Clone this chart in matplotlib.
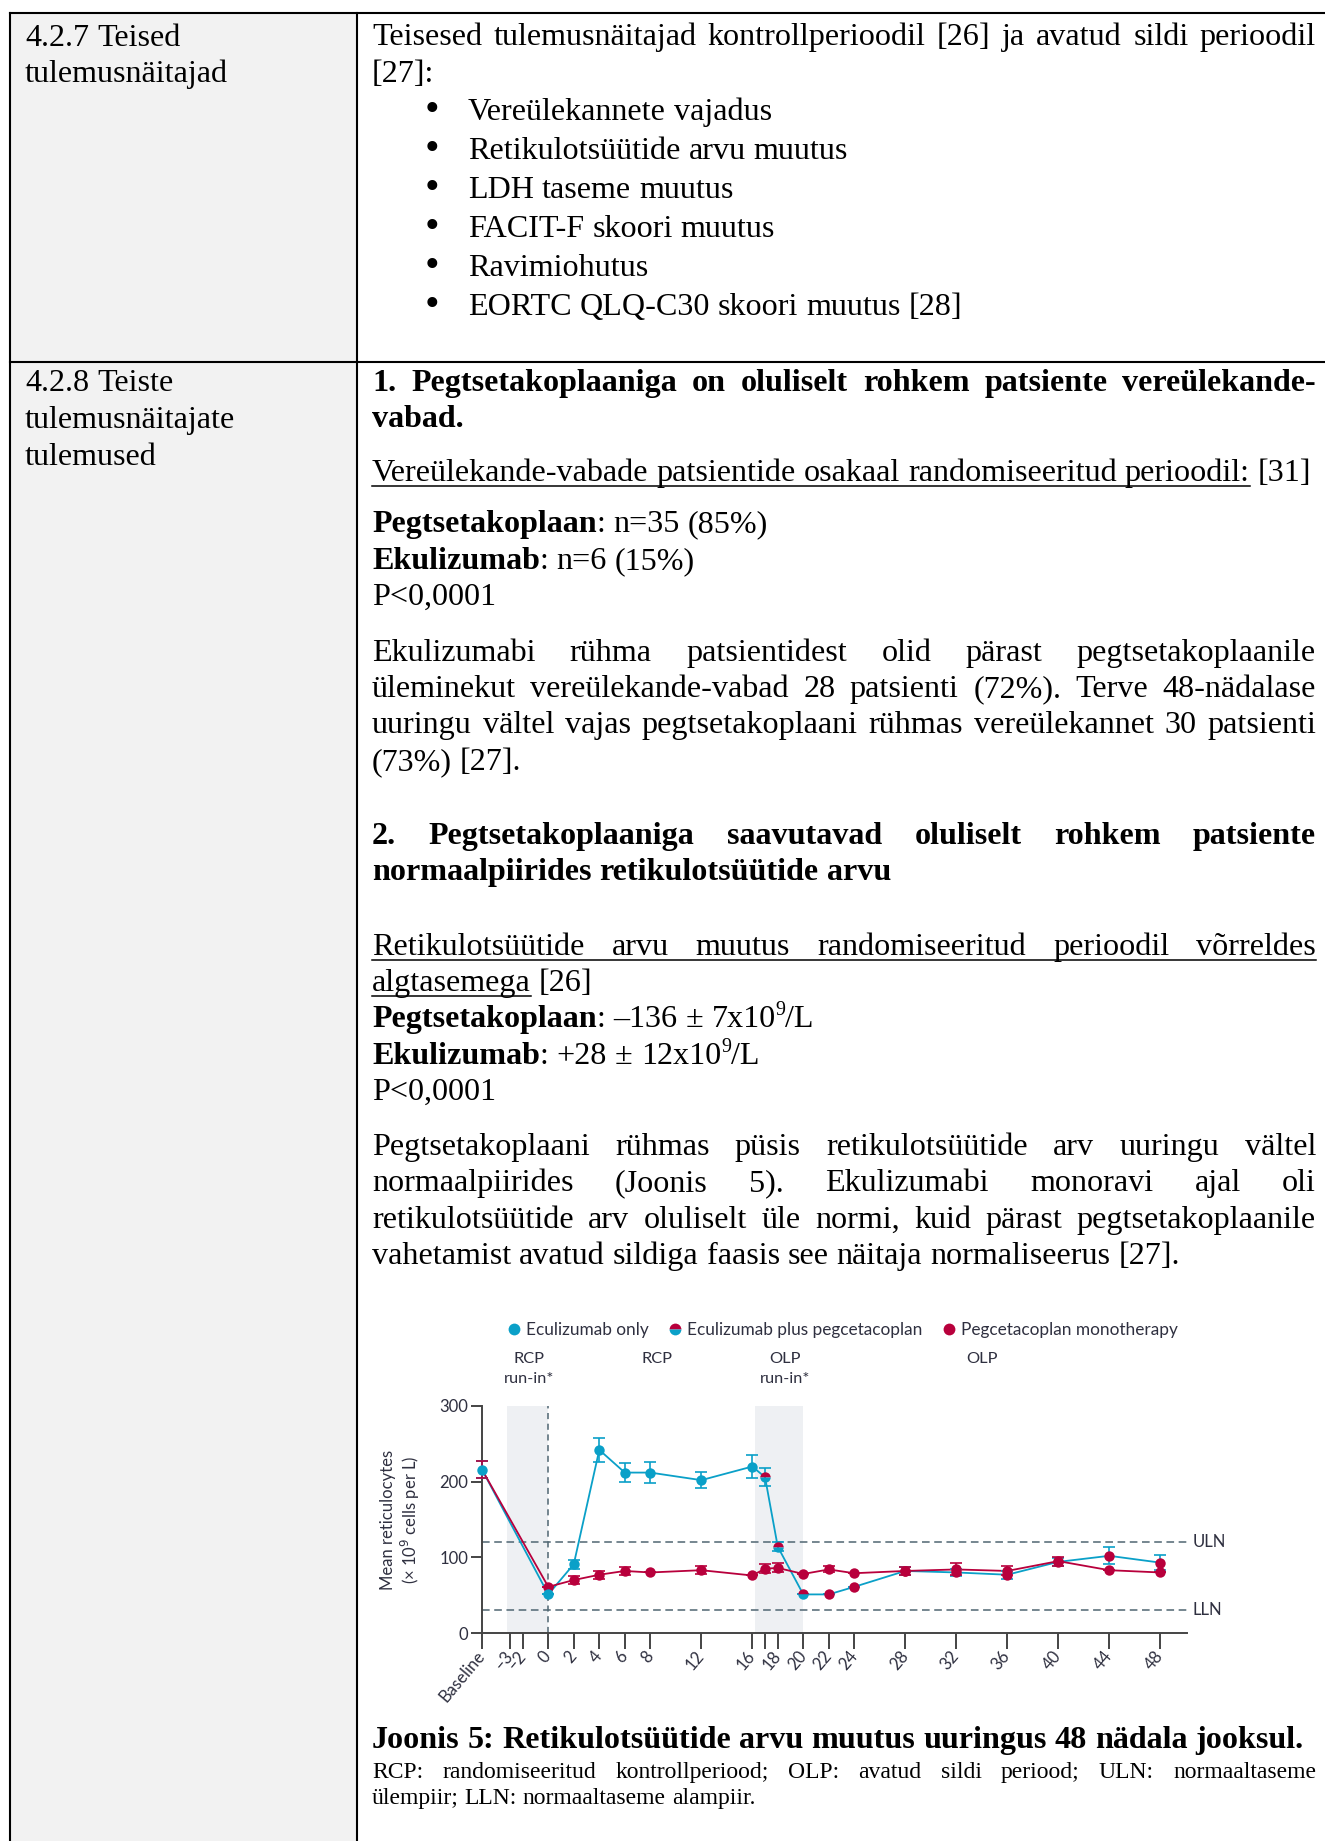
import matplotlib.pyplot as plt
from matplotlib.lines import Line2D
from matplotlib.transforms import blended_transform_factory

W, H = 1325, 1841
SERIF = 'Liberation Serif'
SANS = 'Lato'
BODY = 23.1

# reticulocyte counts (x10^9 cells per L); -5.2 is the slot used for baseline
weeks = [-5.2, 0, 2, 4, 6, 8, 12, 16, 17, 18, 20, 22, 24, 28, 32, 36, 40, 44, 48]
ecu_mean = [216, 51, 91, 242, 212, 212, 202, 220, 206, 114, 51, 51, 61, 82, 80, 77, 94, 102, 93]
ecu_err = [11, 0, 6, 16, 13, 14, 11, 15, 12, 6, 0, 0, 0, 5, 5, 5, 5, 11, 10]
# treatment of the eculizumab arm at each visit
ecu_phase = ['ecu'] * 8 + ['combo'] * 3 + ['peg'] * 8
peg_mean = [216, 61, 70, 77, 82, 80, 83, 76, 85, 86, 78, 84, 79, 82, 84, 82, 95, 83, 80]
peg_err = [11, 0, 5, 5, 5, 0, 5, 0, 6, 6, 0, 4, 0, 5, 8, 6, 6, 0, 0]

tick_pos = [-5.2, -3, -2, 0, 2, 4, 6, 8, 12, 16, 17, 18, 20, 22, 24, 28, 32, 36, 40, 44, 48]
tick_lab = ['Baseline', '–3', '–2', '0', '2', '4', '6', '8', '12', '16', '', '18', '20',
            '22', '24', '28', '32', '36', '40', '44', '48']
uln, lln = 120, 30
runin_spans = [(-3.2, 0), (16.2, 20)]
period_x = [-1.5, 8.5, 18.6, 34]
period_lab = ['RCP\nrun-in*', 'RCP', 'OLP\nrun-in*', 'OLP']
legend_lab = ['Eculizumab only', 'Eculizumab plus pegcetacoplan', 'Pegcetacoplan monotherapy']

TEAL = '#0aa0c8'
RED = '#b8003c'
DASH = '#4f6672'
INK = '#2f3040'
CHART_FS = 12

fig = plt.figure(figsize=(W / 100, H / 100), dpi=100)
page = fig.add_axes([0, 0, 1, 1])
page.set_xlim(0, W)
page.set_ylim(H, 0)
page.axis('off')
rend = fig.canvas.get_renderer()

# table frame
page.fill_between([10, 357], 13, H, color='#f2f2f2', lw=0, zorder=0)
frame = dict(color='black', lw=1.5, zorder=1, solid_capstyle='projecting')
page.plot([10, W], [13, 13], **frame)
page.plot([10, W], [362, 362], **frame)
page.plot([10, 10], [13, H], **frame)
page.plot([357, 357], [13, H], **frame)


def txt_width(s, size, bold=False):
    t = page.text(0, 0, s, fontsize=size, family=SERIF,
                  fontweight='bold' if bold else 'normal')
    w = t.get_window_extent(rend).width
    t.remove()
    return w


def line(y, runs, x0=372, x1=1316, justify=False, size=BODY):
    # runs: (text, flags) with b = bold, u = underline, s = superscript
    words = []
    for text, fl in runs:
        parts = text.split(' ')
        for i, p in enumerate(parts):
            if i > 0 or not words:
                words.append([])
            if p:
                words[-1].append((p, fl))
    words = [w for w in words if w]

    def psize(fl):
        return size * 0.62 if 's' in fl else size

    widths = [[txt_width(p, psize(fl), 'b' in fl) for p, fl in w] for w in words]
    total = sum(sum(ws) for ws in widths)
    space = txt_width('x x', size) - txt_width('xx', size)
    if justify and len(words) > 1:
        gap = (x1 - x0 - total) / (len(words) - 1)
    else:
        gap = space
    x = x0
    ul = []
    for wi, (w, ws) in enumerate(zip(words, widths)):
        for (p, fl), pw in zip(w, ws):
            dy = size * 100 / 72 * 0.38 if 's' in fl else 0
            page.text(x, y - dy, p, fontsize=psize(fl), family=SERIF,
                      fontweight='bold' if 'b' in fl else 'normal',
                      va='baseline', ha='left', color='black')
            if 'u' in fl:
                if ul and abs(ul[-1][1] - x) < 0.5:
                    ul[-1][1] = x + pw
                else:
                    ul.append([x, x + pw])
            x += pw
        if wi + 1 < len(words):
            if 'u' in w[-1][1] and 'u' in words[wi + 1][0][1]:
                ul[-1][1] = x + gap
            x += gap
    for a, b in ul:
        page.plot([a, b], [y + 5, y + 5], color='black', lw=1.1)


# left column
line(46, [('4.2.7 Teised', '')], x0=25)
line(82, [('tulemusnäitajad', '')], x0=25)
line(391, [('4.2.8 Teiste', '')], x0=25)
line(428, [('tulemusnäitajate', '')], x0=25)
line(465, [('tulemused', '')], x0=25)

# row 1
line(45, [('Teisesed tulemusnäitajad kontrollperioodil [26] ja avatud sildi perioodil', '')], justify=True)
line(82, [('[27]:', '')])
bullets = ['Vereülekannete vajadus', 'Retikulotsüütide arvu muutus', 'LDH taseme muutus',
           'FACIT-F skoori muutus', 'Ravimiohutus', 'EORTC QLQ-C30 skoori muutus [28]']
for i, b in enumerate(bullets):
    by = 120 + i * 39
    page.text(432, by + 1, '•', fontsize=BODY * 1.3, family=SERIF, ha='center', va='baseline')
    line(by, [(b, '')], x0=468)

# row 2
line(391, [('1. Pegtsetakoplaaniga on oluliselt rohkem patsiente vereülekande-', 'b')], justify=True)
line(427, [('vabad.', 'b')])
line(481, [('Vereülekande-vabade patsientide osakaal randomiseeritud perioodil:', 'u'), (' [31]', '')])
line(532, [('Pegtsetakoplaan', 'b'), (': n=35 (85%)', '')])
line(569, [('Ekulizumab', 'b'), (': n=6 (15%)', '')])
line(605, [('P<0,0001', '')])
line(661, [('Ekulizumabi rühma patsientidest olid pärast pegtsetakoplaanile', '')], justify=True)
line(697, [('üleminekut vereülekande-vabad 28 patsienti (72%). Terve 48-nädalase', '')], justify=True)
line(733, [('uuringu vältel vajas pegtsetakoplaani rühmas vereülekannet 30 patsienti', '')], justify=True)
line(770, [('(73%) [27].', '')])
line(844, [('2. Pegtsetakoplaaniga saavutavad oluliselt rohkem patsiente', 'b')], justify=True)
line(880, [('normaalpiirides retikulotsüütide arvu', 'b')])
line(955, [('Retikulotsüütide arvu muutus randomiseeritud perioodil võrreldes', 'u')], justify=True)
line(991, [('algtasemega', 'u'), (' [26]', '')])
line(1027, [('Pegtsetakoplaan', 'b'), (': –136 ± 7x10', ''), ('9', 's'), ('/L', '')])
line(1064, [('Ekulizumab', 'b'), (': +28 ± 12x10', ''), ('9', 's'), ('/L', '')])
line(1100, [('P<0,0001', '')])
line(1155, [('Pegtsetakoplaani rühmas püsis retikulotsüütide arv uuringu vältel', '')], justify=True)
line(1191, [('normaalpiirides (Joonis 5). Ekulizumabi monoravi ajal oli', '')], justify=True)
line(1228, [('retikulotsüütide arv oluliselt üle normi, kuid pärast pegtsetakoplaanile', '')], justify=True)
line(1264, [('vahetamist avatud sildiga faasis see näitaja normaliseerus [27].', '')])

# figure caption
line(1748, [('Joonis 5: Retikulotsüütide arvu muutus uuringus 48 nädala jooksul.', 'b')])
note2 = 'ülempiir; LLN: normaaltaseme alampiir.'
NOTE = 15.0 * 385 / txt_width(note2, 15.0)
line(1778, [('RCP: randomiseeritud kontrollperiood; OLP: avatud sildi periood; ULN: normaaltaseme', '')],
     justify=True, size=NOTE)
line(1804, [(note2, '')], size=NOTE)

# reticulocyte chart
ax = fig.add_axes([482 / W, 1 - 1633 / H, 705 / W, 227 / H])
ax.set_xlim(-5.2, 50.1)
ax.set_ylim(0, 300)
for s in ['top', 'right']:
    ax.spines[s].set_visible(False)
for s in ['left', 'bottom']:
    ax.spines[s].set_color('#444444')
    ax.spines[s].set_linewidth(1.4)

for a, b in runin_spans:
    ax.axvspan(a, b, color='#eef0f3', lw=0, zorder=0)
ax.axvline(0, color=DASH, lw=1.1, ls=(0, (4, 3)), zorder=1)
ax.axhline(uln, color=DASH, lw=1.1, ls=(0, (5, 3)), zorder=1, clip_on=False)
ax.axhline(lln, color=DASH, lw=1.1, ls=(0, (5, 3)), zorder=1, clip_on=False)
bt = blended_transform_factory(ax.transAxes, ax.transData)
ax.text(1.008, uln, 'ULN', transform=bt, va='center', ha='left', fontsize=CHART_FS,
        family=SANS, color=INK)
ax.text(1.008, lln, 'LLN', transform=bt, va='center', ha='left', fontsize=CHART_FS,
        family=SANS, color=INK)

ax.plot(weeks, ecu_mean, color=TEAL, lw=1.3, zorder=2, clip_on=False)
ax.plot(weeks, peg_mean, color=RED, lw=1.3, zorder=2, clip_on=False)
ax.errorbar(weeks, ecu_mean, yerr=ecu_err, fmt='none', ecolor=TEAL, elinewidth=1.2,
            capsize=4.5, capthick=1.2, zorder=3, clip_on=False)
ax.errorbar(weeks, peg_mean, yerr=peg_err, fmt='none', ecolor=RED, elinewidth=1.2,
            capsize=4.5, capthick=1.2, zorder=3, clip_on=False)

mk = dict(marker='o', ms=7.5, mew=0, ls='none', clip_on=False)
ax.plot(weeks[1:], peg_mean[1:], color=RED, zorder=4, **mk)
for phase in ['ecu', 'combo', 'peg']:
    xs = [w for w, p in zip(weeks, ecu_phase) if p == phase]
    ys = [v for v, p in zip(ecu_mean, ecu_phase) if p == phase]
    if phase == 'ecu':
        ax.plot(xs, ys, color=TEAL, zorder=5, **mk)
    elif phase == 'combo':
        ax.plot(xs, ys, color=RED, fillstyle='top', markerfacecoloralt=TEAL, zorder=5, **mk)
    else:
        ax.plot(xs, ys, color=RED, zorder=4, **mk)

ax.set_yticks([0, 100, 200, 300])
ax.set_xticks(tick_pos)
ax.set_xticklabels(tick_lab, rotation=50, ha='right', va='center', rotation_mode='anchor')
ax.tick_params(axis='y', length=8, width=1.4, color='#444444', pad=2, labelsize=CHART_FS,
               labelcolor=INK)
ax.tick_params(axis='x', length=11.5, width=1.4, color='#444444', pad=3, labelsize=CHART_FS,
               labelcolor=INK)
for lab in ax.get_xticklabels() + ax.get_yticklabels():
    lab.set_family(SANS)

for px, lab in zip(period_x, period_lab):
    ax.text(px, 371, lab, ha='center', va='top', fontsize=11.8, family=SANS, color=INK,
            linespacing=1.5, clip_on=False)

page.text(401, 1520, 'Mean reticulocytes\n(× 10$^9$ cells per L)', rotation=90, ha='center',
          va='center', multialignment='center', fontsize=CHART_FS, family=SANS, color=INK)

handles = [
    Line2D([], [], color=TEAL, marker='o', ms=8.5, mew=0, ls='none'),
    Line2D([], [], color=RED, marker='o', ms=8.5, mew=0, ls='none', fillstyle='top',
           markerfacecoloralt=TEAL),
    Line2D([], [], color=RED, marker='o', ms=8.5, mew=0, ls='none'),
]
leg = fig.legend(handles, legend_lab, loc='center left', bbox_to_anchor=(499, 1330),
                 bbox_transform=page.transData, ncol=3, frameon=False, borderpad=0,
                 handlelength=0.7, handletextpad=0.35, columnspacing=1.2,
                 prop={'family': SANS, 'size': 12.4})
for t in leg.get_texts():
    t.set_color(INK)

fig.savefig('out.png', dpi=100)
